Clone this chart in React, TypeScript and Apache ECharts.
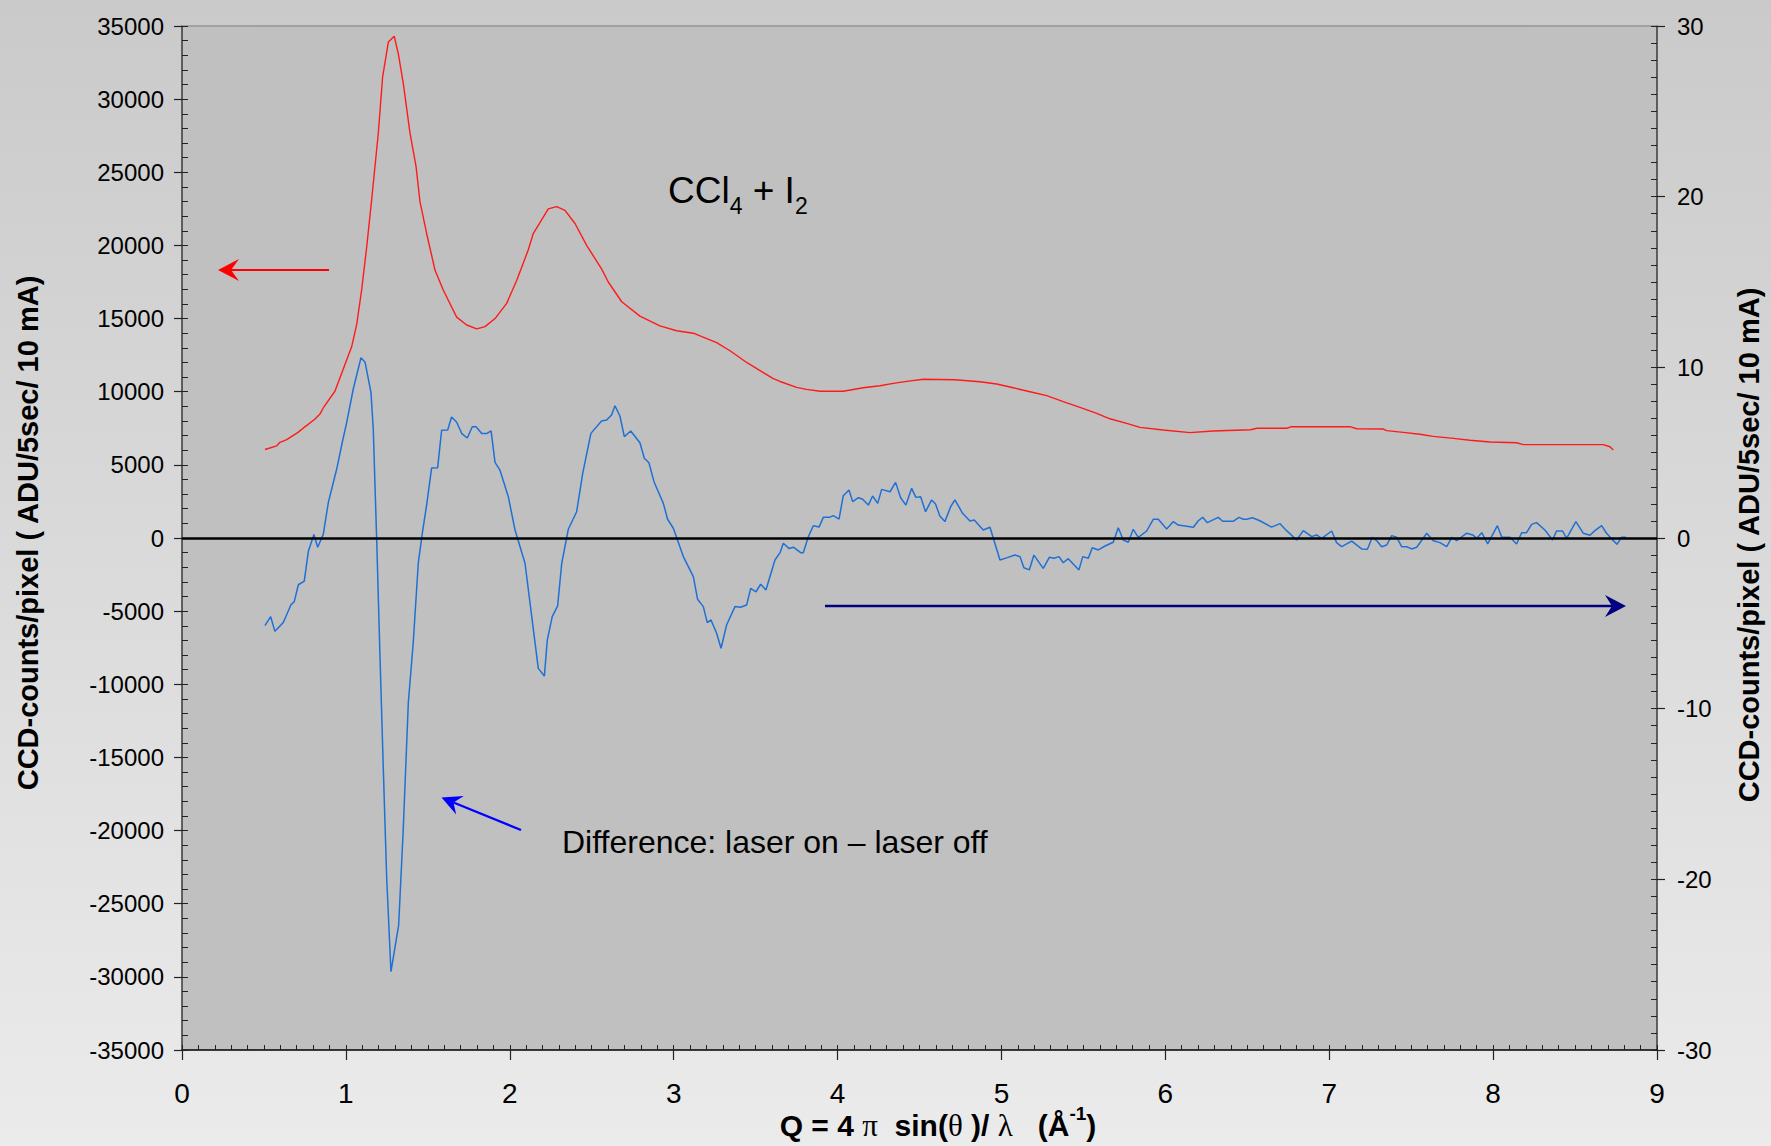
import React, { useEffect, useRef } from "react";
import * as echarts from "echarts";

// Red curve: CCD counts (left axis)
const redQ = [
  0.506, 0.578, 0.598, 0.639, 0.71, 0.75, 0.81, 0.842, 0.866, 0.933, 0.984, 1.035, 1.066, 1.096, 1.127,
  1.157, 1.198, 1.224, 1.259, 1.295, 1.32, 1.35, 1.391, 1.428, 1.452, 1.493, 1.544, 1.594, 1.676, 1.737,
  1.798, 1.849, 1.91, 1.981, 2.042, 2.113, 2.143, 2.235, 2.286, 2.337, 2.398, 2.469, 2.56, 2.601, 2.683,
  2.794, 2.916, 3.018, 3.12, 3.262, 3.344, 3.445, 3.537, 3.608, 3.649, 3.75, 3.811, 3.893, 4.035, 4.157,
  4.259, 4.34, 4.422, 4.523, 4.716, 4.869, 4.971, 5.072, 5.174, 5.276, 5.377, 5.479, 5.581, 5.662, 5.764,
  5.845, 5.987, 6.15, 6.292, 6.52, 6.56, 6.74, 6.771, 7.126, 7.167, 7.33, 7.35, 7.452, 7.553, 7.635,
  7.757, 7.859, 7.981, 8.143, 8.184, 8.672, 8.713, 8.733,
];
const redCounts = [
  6050, 6300, 6540, 6720, 7240, 7600, 8120, 8480, 8970, 10030, 11550, 13070, 14600, 16950, 19900,
  23100, 27700, 31500, 33900, 34300, 33100, 31100, 27700, 25400, 23000, 20800, 18300, 16950, 15100, 14560,
  14300, 14450, 15000, 16040, 17600, 19700, 20800, 22500, 22650, 22400, 21500, 20000, 18400, 17500, 16150,
  15170, 14500, 14170, 14000, 13350, 12800, 12000, 11370, 10900, 10700, 10300, 10160, 10030, 10030, 10270,
  10410, 10570, 10710, 10850, 10820, 10680, 10530, 10270, 10000, 9730, 9320, 8930, 8520, 8150, 7840,
  7560, 7380, 7200, 7310, 7400, 7500, 7500, 7610, 7610, 7470, 7450, 7340, 7220, 7090, 6950,
  6810, 6680, 6560, 6510, 6380, 6380, 6240, 6020,
];

// Blue curve: difference laser on - laser off (right axis)
const blueQ = [
  0.506, 0.541, 0.567, 0.618, 0.665, 0.685, 0.71, 0.746, 0.771, 0.805, 0.828, 0.862, 0.893, 0.944, 0.978,
  1.005, 1.045, 1.092, 1.117, 1.153, 1.167, 1.188, 1.208, 1.228, 1.249, 1.275, 1.322, 1.35, 1.381, 1.411,
  1.442, 1.468, 1.493, 1.523, 1.56, 1.584, 1.621, 1.645, 1.676, 1.707, 1.741, 1.771, 1.794, 1.829, 1.859,
  1.886, 1.91, 1.94, 1.991, 2.032, 2.093, 2.134, 2.174, 2.211, 2.229, 2.259, 2.292, 2.317, 2.357, 2.408,
  2.445, 2.495, 2.56, 2.591, 2.621, 2.642, 2.672, 2.699, 2.738, 2.794, 2.821, 2.849, 2.88, 2.937, 2.963,
  2.998, 3.059, 3.12, 3.146, 3.181, 3.205, 3.228, 3.262, 3.289, 3.323, 3.374, 3.408, 3.445, 3.47, 3.502,
  3.531, 3.563, 3.618, 3.649, 3.669, 3.705, 3.73, 3.775, 3.791, 3.822, 3.852, 3.887, 3.913, 3.95, 3.974,
  4.009, 4.035, 4.07, 4.092, 4.127, 4.153, 4.188, 4.214, 4.245, 4.269, 4.32, 4.354, 4.385, 4.417, 4.452,
  4.478, 4.507, 4.537, 4.574, 4.598, 4.624, 4.655, 4.69, 4.716, 4.763, 4.808, 4.834, 4.889, 4.93, 4.96,
  4.991, 5.036, 5.082, 5.113, 5.137, 5.17, 5.198, 5.255, 5.292, 5.32, 5.351, 5.377, 5.408, 5.438, 5.473,
  5.496, 5.53, 5.554, 5.591, 5.632, 5.682, 5.713, 5.743, 5.774, 5.804, 5.835, 5.886, 5.927, 5.957, 6.008,
  6.049, 6.079, 6.171, 6.201, 6.228, 6.256, 6.323, 6.35, 6.414, 6.449, 6.475, 6.496, 6.532, 6.577, 6.648,
  6.7, 6.74, 6.801, 6.842, 6.893, 6.923, 6.954, 7.015, 7.045, 7.076, 7.137, 7.198, 7.233, 7.263, 7.29,
  7.32, 7.351, 7.381, 7.412, 7.442, 7.473, 7.503, 7.534, 7.595, 7.635, 7.676, 7.717, 7.748, 7.778, 7.839,
  7.876, 7.9, 7.931, 7.967, 8.026, 8.053, 8.103, 8.143, 8.174, 8.204, 8.235, 8.265, 8.316, 8.363, 8.387,
  8.424, 8.448, 8.505, 8.55, 8.591, 8.621, 8.662, 8.692, 8.726, 8.756, 8.783, 8.81,
];
const blueDiff = [
  -5.13, -4.61, -5.47, -4.95, -3.91, -3.73, -2.74, -2.53, -0.78, 0.21, -0.54, 0.21, 2.09, 4.04, 5.61,
  6.78, 8.73, 10.56, 10.3, 8.53, 6.39, -0.13, -6.91, -13.42, -19.94, -25.41, -22.68, -17.07, -9.64, -6.12,
  -1.44, 0.39, 1.96, 4.1, 4.12, 6.31, 6.33, 7.09, 6.78, 6.12, 5.86, 6.52, 6.52, 6.12, 6.12,
  6.28, 4.43, 3.98, 2.42, 0.47, -1.48, -4.61, -7.64, -8.09, -5.98, -4.61, -3.98, -1.48, 0.51, 1.54,
  3.79, 6.13, 6.86, 6.91, 7.21, 7.75, 7.15, 5.94, 6.27, 5.58, 4.67, 4.41, 3.3, 2.03, 1.1,
  0.57, -1.09, -2.26, -3.59, -4.02, -4.96, -4.8, -5.58, -6.46, -5.1, -4.02, -4.06, -3.93, -2.95, -3.15,
  -2.71, -3.05, -1.29, -0.86, -0.31, -0.62, -0.54, -0.86, -0.86, 0.08, 0.72, 0.64, 1.21, 1.21, 1.31,
  1.11, 2.48, 2.81, 2.13, 2.36, 2.27, 1.93, 2.46, 2.03, 2.85, 2.71, 3.26, 2.36, 1.93, 2.91,
  2.38, 2.42, 1.54, 2.23, 1.99, 1.29, 0.96, 1.83, 2.23, 1.45, 1.0, 1.05, 0.47, 0.63, -0.31,
  -1.29, -1.15, -1.0, -1.09, -1.74, -1.87, -1.0, -1.78, -1.13, -1.19, -1.09, -1.45, -1.21, -1.52, -1.87,
  -1.09, -1.19, -0.57, -0.7, -0.47, -0.25, 0.6, -0.12, -0.25, 0.51, 0.04, 0.41, 1.1, 1.1, 0.53,
  0.96, 0.76, 0.63, 1.01, 1.21, 0.9, 1.21, 0.98, 0.98, 1.21, 1.1, 1.1, 1.19, 1.01, 0.64,
  0.84, 0.43, -0.12, 0.43, 0.08, 0.18, -0.02, 0.41, -0.27, -0.51, -0.18, -0.64, -0.66, 0.04, -0.16,
  -0.51, -0.41, 0.14, 0.04, -0.51, -0.51, -0.64, -0.54, 0.28, -0.16, -0.27, -0.51, 0.04, -0.16, 0.28,
  0.18, -0.02, 0.31, -0.35, 0.72, 0.04, 0.04, -0.35, 0.31, 0.31, 0.8, 0.9, 0.47, -0.12, 0.41,
  0.41, -0.02, 0.96, 0.28, 0.16, 0.43, 0.72, 0.28, -0.08, -0.37, 0.04, 0.04,
];

const leftRange = [-35000, 35000];
const rightRange = [-30, 30];
const qRange = [0, 9];

const FONT = "'Liberation Sans', Arial, Helvetica, sans-serif";
const SERIF = "'Liberation Serif', 'Times New Roman', serif";

export default function App() {
  const ref = useRef<HTMLDivElement>(null);

  useEffect(() => {
    document.body.style.margin = "0";
    const chart = echarts.init(ref.current!, undefined, { renderer: "svg" });

    const redData = redQ.map((q, i) => [q, redCounts[i]]);
    const blueData = blueQ.map((q, i) => [q, blueDiff[i]]);

    const option: any = {
      animation: false,
      backgroundColor: {
        type: "linear",
        x: 0,
        y: 0,
        x2: 0,
        y2: 1,
        colorStops: [
          { offset: 0, color: "#cacaca" },
          { offset: 1, color: "#ebebeb" },
        ],
      },
      grid: {
        left: 182,
        right: 114,
        top: 26,
        bottom: 96,
        show: true,
        backgroundColor: "#c0c0c0",
        borderWidth: 0,
      },
      xAxis: [
        {
          type: "value",
          min: qRange[0],
          max: qRange[1],
          interval: 1,
          position: "bottom",
          axisLine: { show: true, onZero: false, lineStyle: { color: "#000", width: 1.5 } },
          axisTick: { show: true, inside: false, length: 10, lineStyle: { color: "#222", width: 1.2 } },
          axisLabel: { show: true, color: "#000", fontSize: 28, fontFamily: FONT, margin: 29 },
          splitLine: { show: false },
        },
        {
          type: "value",
          min: qRange[0],
          max: qRange[1],
          interval: 0.1,
          position: "bottom",
          axisLine: { show: false, onZero: false },
          axisTick: { show: true, inside: true, length: 5, lineStyle: { color: "#222", width: 1 } },
          axisLabel: { show: false },
          splitLine: { show: false },
        },
        {
          type: "value",
          min: qRange[0],
          max: qRange[1],
          position: "top",
          axisLine: { show: true, onZero: false, lineStyle: { color: "#959595", width: 1.5 } },
          axisTick: { show: false },
          axisLabel: { show: false },
          splitLine: { show: false },
        },
      ],
      yAxis: [
        {
          type: "value",
          min: leftRange[0],
          max: leftRange[1],
          interval: 5000,
          position: "left",
          axisLine: { show: true, onZero: false, lineStyle: { color: "#3a3a3a", width: 1.5 } },
          axisTick: { show: true, inside: false, length: 8, lineStyle: { color: "#222", width: 1.2 } },
          axisLabel: {
            show: true,
            color: "#000",
            fontSize: 24,
            fontFamily: FONT,
            margin: 18,
            formatter: (v: number) => String(v),
          },
          splitLine: { show: false },
        },
        {
          type: "value",
          min: leftRange[0],
          max: leftRange[1],
          interval: 1000,
          position: "left",
          axisLine: { show: false, onZero: false },
          axisTick: { show: true, inside: true, length: 6, lineStyle: { color: "#222", width: 1 } },
          axisLabel: { show: false },
          splitLine: { show: false },
        },
        {
          type: "value",
          min: rightRange[0],
          max: rightRange[1],
          interval: 10,
          position: "right",
          axisLine: { show: true, onZero: false, lineStyle: { color: "#3a3a3a", width: 1.5 } },
          axisTick: { show: true, inside: false, length: 8, lineStyle: { color: "#222", width: 1.2 } },
          axisLabel: {
            show: true,
            color: "#000",
            fontSize: 24,
            fontFamily: FONT,
            margin: 20,
            formatter: (v: number) => String(v),
          },
          splitLine: { show: false },
        },
        {
          type: "value",
          min: rightRange[0],
          max: rightRange[1],
          interval: 1,
          position: "right",
          axisLine: { show: false, onZero: false },
          axisTick: { show: true, inside: true, length: 6, lineStyle: { color: "#222", width: 1 } },
          axisLabel: { show: false },
          splitLine: { show: false },
        },
      ],
      series: [
        {
          type: "line",
          name: "CCl4 + I2",
          xAxisIndex: 0,
          yAxisIndex: 0,
          data: redData,
          showSymbol: false,
          symbol: "none",
          lineStyle: { color: "#ff1a1a", width: 1.4 },
          z: 3,
          markLine: {
            silent: true,
            symbol: ["none", "none"],
            label: { show: false },
            lineStyle: { color: "#000", width: 2.5, type: "solid" },
            data: [{ yAxis: 0 }],
          },
        },
        {
          type: "line",
          name: "Difference",
          xAxisIndex: 0,
          yAxisIndex: 2,
          data: blueData,
          showSymbol: false,
          symbol: "none",
          lineStyle: { color: "#1f70d6", width: 1.5 },
          z: 4,
        },
      ],
      graphic: [
        // red arrow (points to left axis)
        { type: "line", shape: { x1: 231, y1: 270, x2: 329, y2: 270 }, style: { stroke: "#ff0000", lineWidth: 2.2 } },
        { type: "polygon", shape: { points: [[218, 270], [239, 259], [231, 270], [239, 281]] }, style: { fill: "#ff0000" } },
        // navy arrow (points to right axis)
        { type: "line", shape: { x1: 825, y1: 606, x2: 1612, y2: 606 }, style: { stroke: "#000080", lineWidth: 2.5 } },
        { type: "polygon", shape: { points: [[1626, 606], [1605, 595], [1612, 606], [1605, 617]] }, style: { fill: "#000080" } },
        // blue diagonal arrow
        { type: "line", shape: { x1: 453.5, y1: 802.5, x2: 521, y2: 830 }, style: { stroke: "#0000ff", lineWidth: 2.2 } },
        {
          type: "polygon",
          shape: { points: [[441.5, 797.5], [463.8, 795.9], [453.5, 802.5], [456.2, 814.4]] },
          style: { fill: "#0000ff" },
        },
        // CCl4 + I2
        {
          type: "text",
          x: 668,
          y: 217,
          style: {
            text: "{m|CCl}{s|4}{m| + I}{s|2}",
            verticalAlign: "bottom",
            align: "left",
            fill: "#000",
            rich: {
              m: { fontSize: 37, lineHeight: 54, verticalAlign: "middle", fontFamily: FONT, fill: "#000" },
              s: { fontSize: 23, lineHeight: 23, verticalAlign: "bottom", fontFamily: FONT, fill: "#000" },
            },
          },
        },
        // Difference label
        {
          type: "text",
          x: 562,
          y: 842,
          style: {
            text: "Difference: laser on \u2013 laser off",
            fontSize: 32,
            fontFamily: FONT,
            fill: "#000",
            align: "left",
            verticalAlign: "middle",
          },
        },
        // left axis title
        {
          type: "text",
          x: 28,
          y: 533,
          rotation: Math.PI / 2,
          style: {
            text: "CCD-counts/pixel ( ADU/5sec/ 10 mA)",
            fontSize: 29,
            fontWeight: "bold",
            fontFamily: FONT,
            fill: "#000",
            align: "center",
            verticalAlign: "middle",
          },
        },
        // right axis title
        {
          type: "text",
          x: 1749,
          y: 545,
          rotation: Math.PI / 2,
          style: {
            text: "CCD-counts/pixel ( ADU/5sec/ 10 mA)",
            fontSize: 29,
            fontWeight: "bold",
            fontFamily: FONT,
            fill: "#000",
            align: "center",
            verticalAlign: "middle",
          },
        },
        // x axis title
        {
          type: "text",
          x: 938,
          y: 1146,
          style: {
            text: "{b|Q = 4 }{g|\u03c0}{b|  sin(}{g|\u03b8}{b| )/ }{g|\u03bb}{b|   (\u00c5}{sup|-1}{b|)}",
            align: "center",
            verticalAlign: "bottom",
            fill: "#000",
            rich: {
              b: { fontSize: 30, fontWeight: "bold", fontFamily: FONT, lineHeight: 42, fill: "#000" },
              g: { fontSize: 31, fontWeight: "normal", fontFamily: SERIF, lineHeight: 42, fill: "#000" },
              sup: { fontSize: 19, fontWeight: "bold", fontFamily: FONT, lineHeight: 19, verticalAlign: "top", fill: "#000" },
            },
          },
        },
      ],
    };

    chart.setOption(option);
    return () => chart.dispose();
  }, []);

  return <div ref={ref} style={{ width: 1771, height: 1146, overflow: "hidden" }} />;
}
